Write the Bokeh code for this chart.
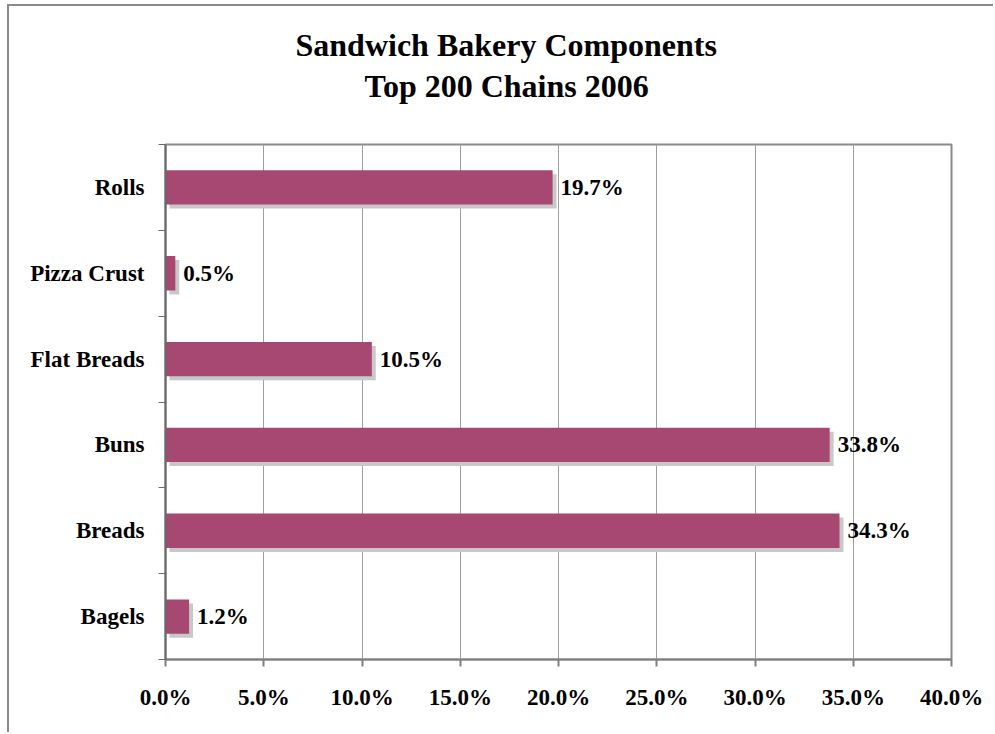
from bokeh.plotting import figure
from bokeh.models import (Range1d, FixedTicker, LinearAxis, Title,
                          PrintfTickFormatter, ColumnDataSource)
from bokeh.transform import dodge
from bokeh.core.properties import value
from bokeh.embed import file_html
from bokeh.resources import INLINE

# ---- data ----
categories = ["Bagels", "Breads", "Buns", "Flat Breads", "Pizza Crust", "Rolls"]
shares = [1.2, 34.3, 33.8, 10.5, 0.5, 19.7]
x_ticks = [0, 5, 10, 15, 20, 25, 30, 35, 40]
title_lines = ["Sandwich Bakery Components", "Top 200 Chains 2006"]

FONT = "Liberation Serif"
BAR = "#A64872"
SHADOW = "#C8C8C8"

n = len(categories)
pos = list(range(1, n + 1))
bounds = [i + 0.5 for i in range(n + 1)]
src = ColumnDataSource(dict(
    y=pos, v=shares, zero=[0] * n,
    lab=[f"{s:.1f}%" for s in shares],
))

p = figure(width=986, height=728, x_range=Range1d(0, 40), y_range=Range1d(0.5, n + 0.5),
           output_backend="svg", toolbar_location=None,
           min_border_left=156, min_border_right=44, min_border_top=138, min_border_bottom=75)
p.styles = {"margin-left": "7px", "margin-top": "4px",
            "border-left": "2px solid #8a8a8a", "border-top": "2px solid #8a8a8a"}
p.background_fill_color = "white"
p.border_fill_color = "white"
p.outline_line_color = "#8a8a8a"
p.outline_line_width = 2

# shadow then bars
p.hbar(y=dodge("y", -0.047), left=dodge("zero", 0.2), right=dodge("v", 0.2),
       height=0.4, fill_color=SHADOW, line_color=None, source=src)
p.hbar(y="y", left="zero", right="v", height=0.4, fill_color=BAR, line_color=None, source=src)

p.text(x="v", y="y", text="lab", x_offset=8, text_baseline="middle", text_align="left",
       text_font=value(FONT), text_font_style="bold", text_font_size="23px",
       text_color="black", source=src)

# x axis
xa = p.xaxis[0]
xa.ticker = FixedTicker(ticks=x_ticks)
xa.formatter = PrintfTickFormatter(format="%.1f%%")
xa.major_tick_out = 7
xa.major_tick_in = 0
xa.minor_tick_line_color = None
xa.axis_line_color = "#808080"
xa.axis_line_width = 2
xa.major_tick_line_color = "#808080"
xa.major_tick_line_width = 2
xa.major_label_text_font = FONT
xa.major_label_text_font_style = "bold"
xa.major_label_text_font_size = "23px"
xa.major_label_text_color = "black"
xa.major_label_standoff = 18

# y axis: boundary ticks (no labels)
ya = p.yaxis[0]
ya.ticker = FixedTicker(ticks=bounds)
ya.major_label_overrides = {b: "" for b in bounds}
ya.major_label_standoff = 0
ya.major_tick_out = 7
ya.major_tick_in = 0
ya.minor_tick_line_color = None
ya.axis_line_color = "#6a6a6a"
ya.axis_line_width = 2
ya.major_tick_line_color = "#6a6a6a"
ya.major_tick_line_width = 1

# y axis: category labels
yl = LinearAxis(ticker=FixedTicker(ticks=pos),
                major_label_overrides={pv: c for pv, c in zip(pos, categories)},
                axis_line_color=None, major_tick_line_color=None, minor_tick_line_color=None,
                major_label_standoff=8, major_label_text_font=FONT,
                major_label_text_font_style="bold", major_label_text_font_size="23px",
                major_label_text_color="black")
p.add_layout(yl, "left")

p.xgrid.ticker = FixedTicker(ticks=x_ticks)
p.xgrid.grid_line_color = "#a0a0a0"
p.xgrid.grid_line_width = 1
p.ygrid.visible = False

# two-line title: first line is the figure title (outermost)
p.title.text = title_lines[0]
p.title.align = "left"
p.title.offset = 130
p.title.standoff = 6
p.title.text_font = FONT
p.title.text_font_style = "bold"
p.title.text_font_size = "32px"
p.title.text_color = "black"
# blank spacer directly above the plot area (first added = closest to frame)
p.add_layout(Title(text=" ", align="left", standoff=3,
                   text_font=FONT, text_font_size="32px"), "above")
p.add_layout(Title(text=title_lines[1], align="left", offset=199, standoff=0,
                   text_font=FONT, text_font_style="bold", text_font_size="32px",
                   text_color="black"), "above")

open("out.html", "w").write(file_html(p, INLINE))
